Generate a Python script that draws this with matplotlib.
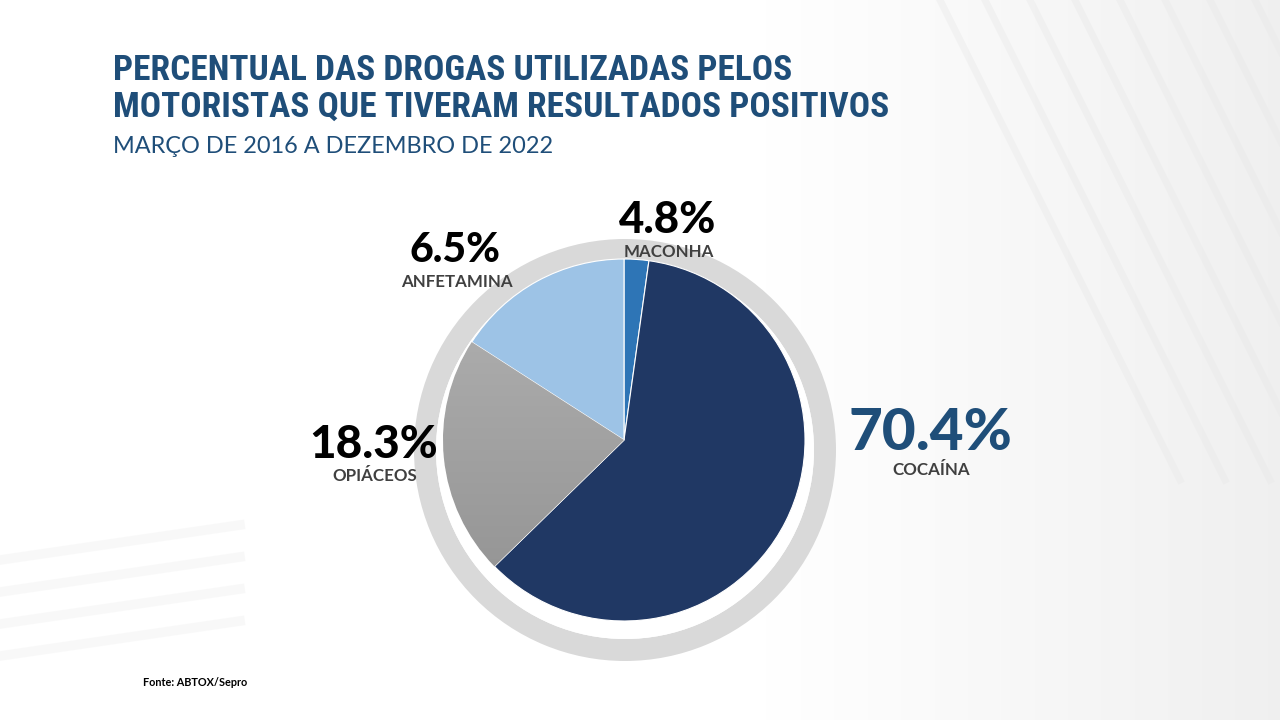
import numpy as np
import matplotlib
matplotlib.use("Agg")
import matplotlib.pyplot as plt
from matplotlib.patches import Wedge

# ---- data ----
categories = ["MACONHA", "COCAÍNA", "OPIÁCEOS", "ANFETAMINA"]
label_pct = ["4.8%", "70.4%", "18.3%", "6.5%"]
# slice sizes as drawn in the reference picture (share of the circle, %)
slice_values = [2.2, 60.5, 21.4, 15.9]
slice_colors = ["#2e75b6", "#203864", "#a6a6a6", "#9dc3e6"]

title_lines = ["PERCENTUAL DAS DROGAS UTILIZADAS PELOS",
               "MOTORISTAS QUE TIVERAM RESULTADOS POSITIVOS"]
subtitle = "MARÇO DE 2016 A DEZEMBRO DE 2022"
source = "Fonte: ABTOX/Sepro"

W, H = 1280, 720
fig = plt.figure(figsize=(12.8, 7.2), dpi=100)
ax = fig.add_axes([0, 0, 1, 1])
ax.set_xlim(0, W)
ax.set_ylim(0, H)
ax.axis("off")

def Y(py):
    return H - py

# ---- faint background texture ----
xx = np.linspace(0, 1, 400)
yy = np.linspace(0, 1, 225)
X, Yg = np.meshgrid(xx, yy)
bg = 1 - 0.06 * np.clip((X - 0.6) / 0.4, 0, 1)
ax.imshow(np.dstack([bg, bg, bg]), extent=[0, W, 0, H], origin="upper",
          zorder=0, interpolation="bilinear")
for k in range(8):
    x0 = 940 + k * 45
    ax.plot([x0, x0 + 240], [H, H - 480], color="#e8e8e8", lw=5, alpha=0.4, zorder=0.5)
for k in range(4):
    ax.plot([0, 240], [Y(560 + k * 32), Y(525 + k * 32)], color="#f3f3f3", lw=7, alpha=0.5, zorder=0.5)

# ---- ring ----
ring = Wedge((625, Y(450)), 211, 0, 360, width=22, facecolor="#d9d9d9",
             edgecolor="none", zorder=1)
ax.add_patch(ring)
ax.add_patch(Wedge((625, Y(450)), 189, 0, 360, facecolor="white", edgecolor="none", zorder=1))

# ---- pie ----
cx, cy, R = 624, Y(440), 181
wedges, _ = ax.pie(slice_values, colors=slice_colors, startangle=90, counterclock=False,
                   center=(cx, cy), radius=R, frame=True,
                   wedgeprops=dict(edgecolor="white", linewidth=0.8))
for w in wedges:
    w.set_zorder(2)
# gradient on opiáceos slice
grad = np.linspace(0.70, 0.57, 256).reshape(-1, 1)
im = ax.imshow(np.dstack([grad, grad, grad]) * np.ones((1, 2, 1)),
               extent=[cx - R, cx + R, cy - R, cy + R], origin="upper",
               zorder=2.1, aspect="auto")
im.set_clip_path(wedges[2])
ax.set_xlim(0, W)
ax.set_ylim(0, H)
ax.set_aspect("auto")
ax.axis("off")

# ---- title ----
tfont = ["Liberation Sans Narrow", "Roboto Condensed", "DejaVu Sans"]
ax.text(113, Y(80), title_lines[0], fontsize=25.5, fontweight="bold", color="#1f4e79",
        family=tfont, ha="left", va="baseline")
ax.text(113, Y(117), title_lines[1], fontsize=25.5, fontweight="bold", color="#1f4e79",
        family=tfont, ha="left", va="baseline")
ax.text(113, Y(153), subtitle, fontsize=16.9, fontweight="normal", color="#1f4e79",
        family=["Lato", "DejaVu Sans"], ha="left", va="baseline")

# ---- labels ----
pfont = ["Lato", "DejaVu Sans"]
lfont = ["Lato", "DejaVu Sans"]
pos_pct = [(668, 233, 31.5, "black"), (930, 450, 42, "#1f4e79"),
           (374, 458, 33, "black"), (455, 262, 29.5, "black")]
pos_lab = [(669, 257), (931, 475), (375, 481), (457, 287)]
for i in range(4):
    x, y, fs, c = pos_pct[i]
    ax.text(x, Y(y), label_pct[i], fontsize=fs, fontweight="black", color=c,
            family=pfont, ha="center", va="baseline")
    lx, ly = pos_lab[i]
    ax.text(lx, Y(ly), categories[i], fontsize=12.2, fontweight="bold", color="#404040",
            family=lfont, ha="center", va="baseline")

ax.text(143, Y(686), source, fontsize=7.8, fontweight="bold", color="black",
        family=["Lato", "DejaVu Sans"], ha="left", va="baseline")

fig.savefig("out.png", dpi=100)
